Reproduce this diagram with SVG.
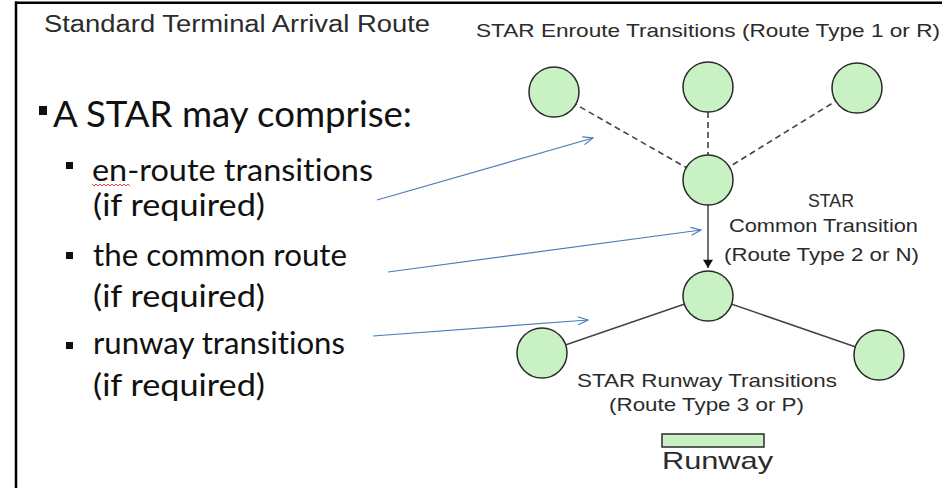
<svg xmlns="http://www.w3.org/2000/svg" width="942" height="488" viewBox="0 0 942 488">
<defs>
<style>
.node{fill:#c9f2c4;stroke:#2a2a2a;stroke-width:1.5}
.dash{stroke:#444;stroke-width:1.6;stroke-dasharray:6 4;fill:none}
.solid{stroke:#444;stroke-width:1.5;fill:none}
.blue{stroke:#4a7ebb;stroke-width:1.2;fill:none}
.lbl{font-family:"Liberation Sans",Arial,sans-serif;fill:#2b2b2b}
.bul{font-family:Lato,"Open Sans",sans-serif;fill:#111;font-variant-ligatures:none}
</style>
<marker id="open" viewBox="0 0 12 10" refX="11" refY="5" markerWidth="12" markerHeight="10" markerUnits="userSpaceOnUse" orient="auto">
<path d="M1,1 L11,5 L1,9" fill="none" stroke="#4a7ebb" stroke-width="1.2"/>
</marker>
<marker id="fill" viewBox="0 0 10 12" refX="10" refY="6" markerWidth="12" markerHeight="10" markerUnits="userSpaceOnUse" orient="auto">
<path d="M0,0 L10,6 L0,12 Z" fill="#111"/>
</marker>
</defs>
<rect x="0" y="0" width="942" height="488" fill="#fff"/>
<g id="frame">
<line x1="16" y1="1.5" x2="16" y2="488" stroke="#000" stroke-width="2.5"/>
<line x1="15" y1="2.8" x2="942" y2="2.8" stroke="#000" stroke-width="2.5"/>
</g>
<g id="title">
<text class="lbl" x="44" y="32" font-size="23" textLength="386" lengthAdjust="spacingAndGlyphs" fill="#111">Standard Terminal Arrival Route</text>
</g>
<g id="bullets">
<rect x="39" y="106" width="8" height="9" fill="#111"/>
<text class="bul" x="53" y="127" font-size="37" textLength="359" lengthAdjust="spacingAndGlyphs">A STAR may comprise:</text>
<rect x="66" y="162" width="7" height="7" fill="#111"/>
<text class="bul" x="92" y="181" font-size="30" textLength="281" lengthAdjust="spacingAndGlyphs">en-route transitions</text>
<polyline points="92,184 94,186 96,184 98,186 100,184 102,186 104,184 106,186 108,184 110,186 112,184 114,186 116,184 118,186 120,184 122,186 124,184 126,186 128,184 130,186" fill="none" stroke="#e03030" stroke-width="0.9"/>
<text class="bul" x="93" y="216" font-size="30" textLength="172" lengthAdjust="spacingAndGlyphs">(if required)</text>
<rect x="66" y="252" width="7" height="7" fill="#111"/>
<text class="bul" x="93" y="266" font-size="30" textLength="254" lengthAdjust="spacingAndGlyphs">the common route</text>
<text class="bul" x="93" y="307" font-size="30" textLength="172" lengthAdjust="spacingAndGlyphs">(if required)</text>
<rect x="66" y="342" width="7" height="7" fill="#111"/>
<text class="bul" x="93" y="354" font-size="30" textLength="252" lengthAdjust="spacingAndGlyphs">runway transitions</text>
<text class="bul" x="93" y="396" font-size="30" textLength="172" lengthAdjust="spacingAndGlyphs">(if required)</text>
</g>
<g id="connectors">
<line class="dash" x1="554" y1="92" x2="708" y2="180"/>
<line class="dash" x1="708" y1="112" x2="708" y2="155"/>
<line class="dash" x1="857" y1="88" x2="708" y2="180"/>
<line class="solid" x1="708" y1="205" x2="708" y2="268" stroke="#111" marker-end="url(#fill)"/>
<line class="solid" x1="708" y1="296" x2="542" y2="353"/>
<line class="solid" x1="708" y1="296" x2="879" y2="355"/>
<line class="blue" x1="377" y1="200" x2="593" y2="138" marker-end="url(#open)"/>
<line class="blue" x1="388" y1="272" x2="701" y2="230" marker-end="url(#open)"/>
<line class="blue" x1="373" y1="336" x2="588" y2="320" marker-end="url(#open)"/>
</g>
<g id="n1"><circle class="node" cx="554" cy="92" r="25"/></g>
<g id="n2"><circle class="node" cx="708" cy="87" r="25"/></g>
<g id="n3"><circle class="node" cx="857" cy="88" r="25"/></g>
<g id="n4"><circle class="node" cx="708" cy="180" r="25"/></g>
<g id="n5"><circle class="node" cx="708" cy="296" r="25"/></g>
<g id="n6"><circle class="node" cx="542" cy="353" r="25"/></g>
<g id="n7"><circle class="node" cx="879" cy="355" r="25"/></g>
<g id="runway">
<rect class="node" x="662" y="434" width="102" height="13" stroke-width="1.3"/>
<text class="lbl" x="662" y="469" font-size="24" textLength="111" lengthAdjust="spacingAndGlyphs" fill="#111">Runway</text>
</g>
<g id="labels">
<text class="lbl" x="476" y="37" font-size="19" textLength="464" lengthAdjust="spacingAndGlyphs">STAR Enroute Transitions (Route Type 1 or R)</text>
<text class="lbl" x="808" y="207" font-size="19" textLength="46" lengthAdjust="spacingAndGlyphs">STAR</text>
<text class="lbl" x="729" y="232" font-size="19" textLength="189" lengthAdjust="spacingAndGlyphs">Common Transition</text>
<text class="lbl" x="724" y="261" font-size="19" textLength="195" lengthAdjust="spacingAndGlyphs">(Route Type 2 or N)</text>
<text class="lbl" x="577" y="387" font-size="19" textLength="260" lengthAdjust="spacingAndGlyphs">STAR Runway Transitions</text>
<text class="lbl" x="609" y="411" font-size="19" textLength="195" lengthAdjust="spacingAndGlyphs">(Route Type 3 or P)</text>
</g>
</svg>
